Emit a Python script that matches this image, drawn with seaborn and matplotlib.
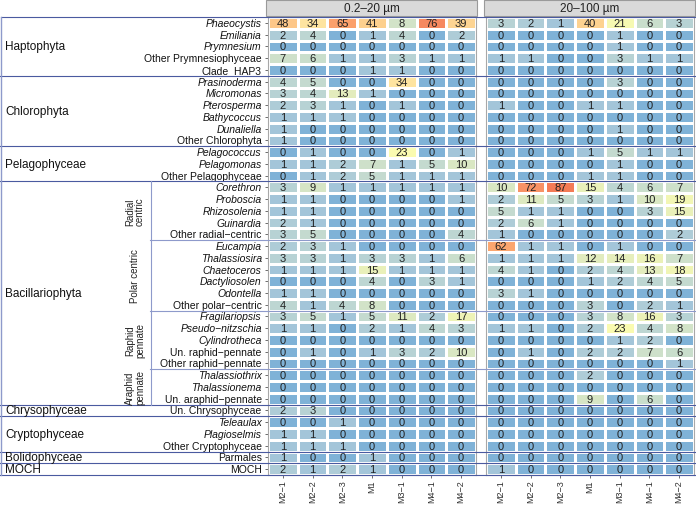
import numpy as np
import pandas as pd
import matplotlib
matplotlib.use('Agg')
import matplotlib.pyplot as plt
import seaborn as sns
from matplotlib.colors import LinearSegmentedColormap
from matplotlib.patches import Rectangle

plt.rcParams['font.family'] = ['Liberation Sans', 'DejaVu Sans']

# Datos
taxa = ['Phaeocystis', 'Emiliania', 'Prymnesium', 'Other Prymnesiophyceae', 'Clade_HAP3',
        'Prasinoderma', 'Micromonas', 'Pterosperma', 'Bathycoccus', 'Dunaliella', 'Other Chlorophyta',
        'Pelagococcus', 'Pelagomonas', 'Other Pelagophyceae',
        'Corethron', 'Proboscia', 'Rhizosolenia', 'Guinardia', 'Other radial\u2212centric',
        'Eucampia', 'Thalassiosira', 'Chaetoceros', 'Dactyliosolen', 'Odontella', 'Other polar\u2212centric',
        'Fragilariopsis', 'Pseudo\u2212nitzschia', 'Cylindrotheca', 'Un. raphid\u2212pennate', 'Other raphid\u2212pennate',
        'Thalassiothrix', 'Thalassionema', 'Un. araphid\u2212pennate',
        'Un. Chrysophyceae',
        'Teleaulax', 'Plagioselmis', 'Other Cryptophyceae',
        'Parmales',
        'MOCH']

samples = ['M2\u22121', 'M2\u22122', 'M2\u22123', 'M1', 'M3\u22121', 'M4\u22121', 'M4\u22122']
fractions = ['0.2\u201320 \u00b5m', '20\u2013100 \u00b5m']

groups = ['Haptophyta', 'Chlorophyta', 'Pelagophyceae', 'Bacillariophyta',
          'Chrysophyceae', 'Cryptophyceae', 'Bolidophyceae', 'MOCH']
group_sizes = [5, 6, 3, 19, 1, 3, 1, 1]

subgroups = ['Radial\ncentric', 'Polar centric', 'Raphid\npennate', 'Araphid\npennate']
subgroup_sizes = [5, 6, 5, 3]

small = [
    [48, 34, 65, 41, 8, 76, 39],
    [2, 4, 0, 1, 4, 0, 2],
    [0, 0, 0, 0, 0, 0, 0],
    [7, 6, 1, 1, 3, 1, 1],
    [0, 0, 0, 1, 1, 0, 0],
    [4, 5, 0, 0, 34, 0, 0],
    [3, 4, 13, 1, 0, 0, 0],
    [2, 3, 1, 0, 1, 0, 0],
    [1, 1, 1, 0, 0, 0, 0],
    [1, 0, 0, 0, 0, 0, 0],
    [1, 0, 0, 0, 0, 0, 0],
    [0, 1, 0, 0, 23, 0, 1],
    [1, 1, 2, 7, 1, 5, 10],
    [0, 1, 2, 5, 1, 1, 1],
    [3, 9, 1, 1, 1, 1, 1],
    [1, 1, 0, 0, 0, 0, 1],
    [1, 1, 0, 0, 0, 0, 0],
    [2, 1, 0, 0, 0, 0, 0],
    [3, 5, 0, 0, 0, 0, 4],
    [2, 3, 1, 0, 0, 0, 0],
    [3, 3, 1, 3, 3, 1, 6],
    [1, 1, 1, 15, 1, 1, 1],
    [0, 0, 0, 4, 0, 3, 1],
    [1, 1, 0, 0, 0, 0, 0],
    [4, 1, 4, 8, 0, 0, 0],
    [3, 5, 1, 5, 11, 2, 17],
    [1, 1, 0, 2, 1, 4, 3],
    [0, 0, 0, 0, 0, 0, 0],
    [0, 1, 0, 1, 3, 2, 10],
    [0, 0, 0, 0, 0, 0, 0],
    [0, 0, 0, 0, 0, 0, 0],
    [0, 0, 0, 0, 0, 0, 0],
    [0, 0, 0, 0, 0, 0, 0],
    [2, 3, 0, 0, 0, 0, 0],
    [0, 0, 1, 0, 0, 0, 0],
    [1, 1, 0, 0, 0, 0, 0],
    [1, 1, 1, 0, 0, 0, 0],
    [1, 0, 0, 1, 0, 0, 0],
    [2, 1, 2, 1, 0, 0, 0],
]

large = [
    [3, 2, 1, 40, 21, 6, 3],
    [0, 0, 0, 0, 1, 0, 0],
    [0, 0, 0, 0, 1, 0, 0],
    [1, 1, 0, 0, 3, 1, 1],
    [0, 0, 0, 0, 0, 0, 0],
    [0, 0, 0, 0, 3, 0, 0],
    [0, 0, 0, 0, 0, 0, 0],
    [1, 0, 0, 1, 1, 0, 0],
    [0, 0, 0, 0, 0, 0, 0],
    [0, 0, 0, 0, 1, 0, 0],
    [0, 0, 0, 0, 0, 0, 0],
    [0, 0, 0, 1, 5, 1, 1],
    [0, 0, 0, 0, 1, 0, 0],
    [0, 0, 0, 1, 1, 0, 0],
    [10, 72, 87, 15, 4, 6, 7],
    [2, 11, 5, 3, 1, 10, 19],
    [5, 1, 1, 0, 0, 3, 15],
    [2, 6, 1, 0, 0, 0, 0],
    [1, 0, 0, 0, 0, 0, 2],
    [62, 1, 1, 0, 1, 0, 0],
    [1, 1, 1, 12, 14, 16, 7],
    [4, 1, 0, 2, 4, 13, 18],
    [0, 0, 0, 1, 2, 4, 5],
    [3, 1, 0, 0, 0, 0, 0],
    [0, 0, 0, 3, 0, 2, 1],
    [0, 0, 0, 3, 8, 16, 3],
    [1, 1, 0, 2, 23, 4, 8],
    [0, 0, 0, 0, 1, 2, 0],
    [0, 1, 0, 2, 2, 7, 6],
    [0, 0, 0, 0, 0, 0, 1],
    [0, 0, 0, 2, 0, 0, 0],
    [0, 0, 0, 0, 0, 0, 0],
    [0, 0, 0, 9, 0, 6, 0],
    [0, 0, 0, 0, 0, 0, 0],
    [0, 0, 0, 0, 0, 0, 0],
    [0, 0, 0, 0, 0, 0, 0],
    [0, 0, 0, 0, 0, 0, 0],
    [0, 0, 0, 0, 0, 0, 0],
    [1, 0, 0, 0, 0, 0, 0],
]

# Paleta: azul -> amarillo -> naranja (escala raiz cuadrada)
paleta = LinearSegmentedColormap.from_list('algas', [
    (0.00, '#7fb2d7'), (0.11, '#a4c6d9'), (0.19, '#b8d3d4'), (0.30, '#d2e3c8'),
    (0.42, '#eaf0b8'), (0.51, '#fafcb0'), (0.63, '#fee3a0'), (0.68, '#fdd18f'),
    (0.75, '#fdc689'), (0.86, '#fba26c'), (0.94, '#f68860'), (1.00, '#f47b56')])
vmax = max(np.max(small), np.max(large))

W, H = 696, 506
top, bottom = 18.1, 476.0
rh = (bottom - top) / len(taxa)

def frac(x0, y0, x1, y1):
    return [x0 / W, 1 - y1 / H, (x1 - x0) / W, (y1 - y0) / H]

fig = plt.figure(figsize=(W / 100, H / 100), dpi=100)
paneles = [(268, 476), (486, 694)]

for k, (datos, (x0, x1)) in enumerate(zip([small, large], paneles)):
    df = pd.DataFrame(datos, index=taxa, columns=samples)
    ax = fig.add_axes(frac(x0, top, x1, bottom))
    sns.heatmap(np.sqrt(df / vmax), annot=df, fmt='d', cmap=paleta, vmin=0, vmax=1,
                cbar=False, linewidths=0.9, linecolor='white', ax=ax,
                annot_kws={'fontsize': 8, 'color': '#222222'})
    ax.set_xticks(np.arange(len(samples)) + 0.5)
    ax.set_xticklabels(samples, rotation=90, fontsize=6.5, color='#333333')
    ax.tick_params(axis='x', length=2, width=0.6, color='#555555', pad=1)
    ax.tick_params(axis='y', length=2.5, width=0.6, color='#555555', pad=2)
    if k == 0:
        ax.set_yticks(np.arange(len(taxa)) + 0.5)
        ax.set_yticklabels(taxa, fontsize=7.5, color='#111111')
        for lab in ax.get_yticklabels():
            t = lab.get_text()
            if not t.startswith(('Other', 'Un.', 'Clade')) and t not in ('Parmales', 'MOCH'):
                lab.set_style('italic')
    else:
        ax.set_yticks([])
    ax.set_xlabel('')
    ax.set_ylabel('')
    for s in ax.spines.values():
        s.set_visible(True)
        s.set_color('#a8a8a8')
        s.set_linewidth(0.8)

# Capa de anotaciones en pixeles
ov = fig.add_axes([0, 0, 1, 1], zorder=5)
ov.set_xlim(0, W)
ov.set_ylim(H, 0)
ov.axis('off')
ov.patch.set_alpha(0)

for (x0, x1), nombre in zip(paneles, fractions):
    ov.add_patch(Rectangle((x0 - 2, 0.5), x1 - x0 + 3, 16.5, fc='#d9d9d9', ec='#9a9a9a', lw=0.8))
    ov.text((x0 + x1) / 2, 9, nombre, ha='center', va='center', fontsize=8.5, color='#222222')

col_grupo = '#4a5aa0'
col_sub = '#8e9acb'

# Grupos
ov.plot([0.5, W], [top, top], color=col_grupo, lw=0.8)
pos = 0
for g, n in zip(groups, group_sizes):
    yc = top + (pos + n / 2) * rh
    ov.text(5, yc, g, ha='left', va='center', fontsize=8.5, color='#111111')
    pos += n
    y = top + pos * rh
    ov.plot([0, W], [y, y], color=col_grupo, lw=0.8)
ov.plot([0.6, 0.6], [top, bottom], color=col_sub, lw=1)

# Subgrupos de diatomeas
pos = sum(group_sizes[:3])
sub_top = top + pos * rh
for sg, n in zip(subgroups, subgroup_sizes):
    yc = top + (pos + n / 2) * rh
    ov.text(135, yc, sg, ha='center', va='center', rotation=90, fontsize=7,
            color='#222222', linespacing=1.0)
    pos += n
    if sg != subgroups[-1]:
        y = top + pos * rh
        ov.plot([150, W], [y, y], color=col_sub, lw=0.8)
ov.plot([150.5, 150.5], [sub_top, top + pos * rh], color=col_sub, lw=0.8)

fig.savefig('out.png', dpi=100)
